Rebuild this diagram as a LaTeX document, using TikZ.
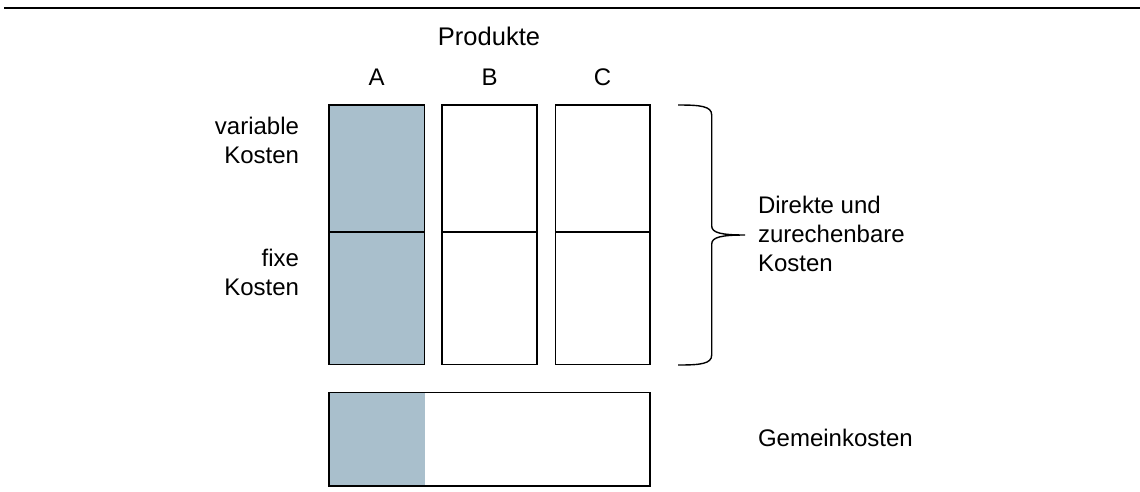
\documentclass[tikz,border=0pt]{standalone}
\usepackage{fontspec}
\setmainfont{Liberation Sans}
\definecolor{costblue}{RGB}{169,191,204}
\begin{document}
\begin{tikzpicture}[x=1pt,y=-1pt,
  every node/.style={font=\fontsize{24}{29}\selectfont, inner sep=0pt, outer sep=0pt},
  cell/.style={draw=black, line width=1.6pt},
  lbl/.style={anchor=base},
  rlbl/.style={anchor=base east, align=right},
  llbl/.style={anchor=base west, align=left}]
\useasboundingbox (0,0) rectangle (1140,491);

% rule across the top
\coordinate (ruleL) at (4,7.7);
\coordinate (ruleR) at (1140,7.7);
\draw[line width=2pt] (ruleL) -- (ruleR);

% product columns, upper (variable) and lower (fixed) cells
\path[cell, fill=costblue] (328.7,104.7) rectangle (424.3,232) coordinate (Atop);
\path[cell, fill=costblue] (328.7,232) rectangle (424.3,364.3) coordinate (Abot);
\path[cell] (442,104.7) rectangle (537,232) coordinate (Btop);
\path[cell] (442,232) rectangle (537,364.3) coordinate (Bbot);
\path[cell] (555.3,104.7) rectangle (650,232) coordinate (Ctop);
\path[cell] (555.3,232) rectangle (650,364.3) coordinate (Cbot);

% overhead cost bar, share of product A shaded
\fill[costblue] (329,392.3) rectangle (425,486);
\path[cell] (329,392.3) rectangle (650,486) coordinate (bar);

% headings
\node[lbl, font=\fontsize{25.5}{29}\selectfont] (prod) at (489,45) {Produkte};
\node[lbl] (hA) at (376.5,85) {A};
\node[lbl] (hB) at (489.5,85) {B};
\node[lbl] (hC) at (602.6,85) {C};

% row labels (base anchor sits on the last line)
\node[rlbl] (var) at (299,163.3) {variable\\Kosten};
\node[rlbl] (fix) at (299,295) {fixe\\Kosten};

% curly brace over both rows
\coordinate (brT) at (678,105);
\coordinate (brB) at (678,365);
\coordinate (brTip) at (745,235);
\draw[line width=1.4pt]
  (brT) .. controls (700,105) and (711.7,106) .. (711.7,115)
  -- (711.7,226)
  .. controls (711.7,233) and (722,235) .. (brTip)
  .. controls (722,235) and (711.7,237) .. (711.7,244)
  -- (711.7,355)
  .. controls (711.7,364) and (700,365) .. (brB);

\node[llbl] (direct) at (758,271.7) {Direkte und\\zurechenbare\\Kosten};
\node[llbl] (common) at (758,446.7) {Gemeinkosten};
\end{tikzpicture}
\end{document}
